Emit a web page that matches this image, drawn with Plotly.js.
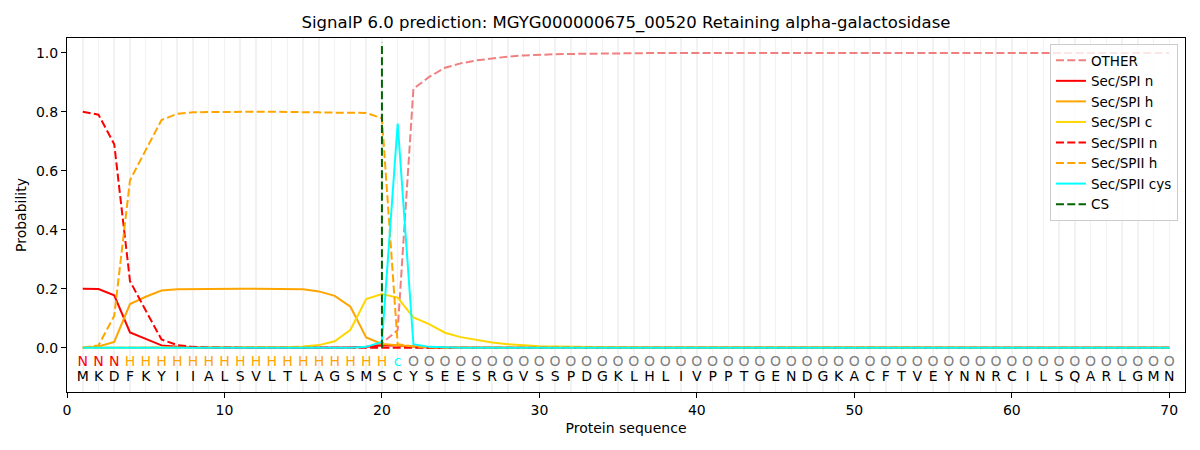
<!DOCTYPE html>
<html>
<head>
<meta charset="utf-8">
<script src="https://cdn.plot.ly/plotly-3.0.1.min.js"></script>
<style>html,body{margin:0;padding:0;background:#fff;}#chart{width:1200px;height:450px;}</style>
</head>
<body>
<div id="chart"></div>
<script>
// ---- data ----
const sequence = "MKDFKYIIALSVLTLAGSMSCYSEESRGVSSPDGKLHLIVPPTGENDGKACFTVEYNNRCILSQARLGMN".split("");
const regionLabels = "NNNHHHHHHHHHHHHHHHHHcOOOOOOOOOOOOOOOOOOOOOOOOOOOOOOOOOOOOOOOOOOOOOOOOO".split("");

const other = [0,0,0,0,0,0,0,0,0,0, 0,0,0,0,0,0,0,0.001,0.002,0.015,
  0.06,0.878,0.918,0.949,0.964,0.974,0.981,0.987,0.991,0.994,
  0.995,0.996,0.997,0.998,0.998,0.999,0.999,0.999,0.999,0.999,
  0.999,0.999,0.999,0.999,0.999,0.999,0.999,0.999,0.999,0.999,
  0.999,0.999,0.999,0.999,0.999,0.999,0.999,0.999,0.999,0.999,
  0.999,0.999,0.999,0.999,0.999,0.999,0.999,0.999,0.999,0.999];
const secSpiN = [0.2,0.199,0.178,0.052,0.03,0.008,0.003,0.001,0,0, 0,0,0,0,0,0,0,0.001,0.003,0.008,
  0.008,0.004,0.001,0,0,0,0,0,0,0, 0,0,0,0,0,0,0,0,0,0, 0,0,0,0,0,0,0,0,0,0,
  0,0,0,0,0,0,0,0,0,0, 0,0,0,0,0,0,0,0,0,0];
const secSpiH = [0,0.004,0.02,0.148,0.173,0.194,0.198,0.199,0.2,0.2, 0.2,0.2,0.2,0.2,0.198,0.191,0.176,0.139,0.035,0.013,
  0.008,0.004,0.002,0.001,0,0,0,0,0,0, 0,0,0,0,0,0,0,0,0,0, 0,0,0,0,0,0,0,0,0,0,
  0,0,0,0,0,0,0,0,0,0, 0,0,0,0,0,0,0,0,0,0];
const secSpiC = [0,0,0,0,0,0,0,0,0,0, 0,0,0,0.002,0.004,0.009,0.022,0.061,0.165,0.182,
  0.17,0.103,0.08,0.051,0.036,0.026,0.018,0.012,0.008,0.005,
  0.004,0.003,0.002,0.002,0.001,0.001,0.001,0.001,0.001,0.001,
  0,0,0,0,0,0,0,0,0,0, 0,0,0,0,0,0,0,0,0,0, 0,0,0,0,0,0,0,0,0,0];
const secSpiiN = [0.8,0.79,0.69,0.226,0.126,0.028,0.009,0.003,0.001,0, 0,0,0,0,0,0,0,0,0.001,0.002,
  0,0,0,0,0,0,0,0,0,0, 0,0,0,0,0,0,0,0,0,0, 0,0,0,0,0,0,0,0,0,0,
  0,0,0,0,0,0,0,0,0,0, 0,0,0,0,0,0,0,0,0,0];
const secSpiiH = [0,0.008,0.108,0.568,0.67,0.772,0.793,0.798,0.799,0.8, 0.8,0.8,0.8,0.8,0.799,0.798,0.797,0.796,0.796,0.778,
  0.012,0.004,0.001,0,0,0,0,0,0,0, 0,0,0,0,0,0,0,0,0,0, 0,0,0,0,0,0,0,0,0,0,
  0,0,0,0,0,0,0,0,0,0, 0,0,0,0,0,0,0,0,0,0];
const secSpiiCys = [0,0,0,0,0,0,0,0,0,0, 0,0,0,0,0,0,0,0,0.003,0.02,
  0.76,0.012,0.003,0.001,0,0,0,0,0,0, 0,0,0,0,0,0,0,0,0,0, 0,0,0,0,0,0,0,0,0,0,
  0,0,0,0,0,0,0,0,0,0, 0,0,0,0,0,0,0,0,0,0];
const csPos = 20;
const csTop = 1.035;
const xTicks = [0,10,20,30,40,50,60,70];
const yTicks = [0,0.2,0.4,0.6,0.8,1.0];
const yTickText = ["0.0","0.2","0.4","0.6","0.8","1.0"];

// ---- build ----
const positions = sequence.map((_, i) => i + 1);
const regionColor = {N: "red", H: "orange", c: "cyan", O: "grey"};
const dash = "8px,3.3px";
const FONT = "DejaVu Sans, sans-serif";

function line(name, y, color, dashed) {
  return {x: positions, y: y, name: name, type: "scatter", mode: "lines",
    line: {color: color, width: 2, dash: dashed ? dash : "solid"}};
}

const traces = [
  line("OTHER", other, "#F08080", true),
  line("Sec/SPI n", secSpiN, "red", false),
  line("Sec/SPI h", secSpiH, "orange", false),
  line("Sec/SPI c", secSpiC, "gold", false),
  line("Sec/SPII n", secSpiiN, "red", true),
  line("Sec/SPII h", secSpiiH, "orange", true),
  line("Sec/SPII cys", secSpiiCys, "cyan", false),
  {x: [csPos, csPos], y: [0, csTop], name: "CS", type: "scatter", mode: "lines",
    line: {color: "darkgreen", width: 2, dash: dash}},
  {x: positions, y: positions.map(() => -0.05), text: regionLabels, mode: "text", type: "scatter",
    textfont: {family: FONT, size: 14, color: regionLabels.map(r => regionColor[r])},
    showlegend: false, hoverinfo: "skip"},
  {x: positions, y: positions.map(() => -0.1), text: sequence, mode: "text", type: "scatter",
    textfont: {family: FONT, size: 14, color: "black"},
    showlegend: false, hoverinfo: "skip"}
];

const layout = {
  width: 1200, height: 450,
  margin: {l: 67, r: 15, t: 38, b: 58},
  paper_bgcolor: "white", plot_bgcolor: "white",
  font: {family: FONT, size: 14, color: "black"},
  title: {text: "SignalP 6.0 prediction: MGYG000000675_00520 Retaining alpha-galactosidase",
    font: {family: FONT, size: 16.5, color: "black"},
    x: 0.5, xref: "paper", xanchor: "center", y: 1 - 22/450, yref: "container", yanchor: "middle"},
  xaxis: {range: [0, 71], tickvals: xTicks, ticks: "outside", ticklen: 5, tickwidth: 1, tickcolor: "black",
    showline: true, linecolor: "black", linewidth: 1, mirror: true, zeroline: false,
    showgrid: true, gridcolor: "#f2f2f2", gridwidth: 1.5,
    minor: {dtick: 1, tick0: 0, showgrid: true, gridcolor: "#f2f2f2", gridwidth: 1.5, ticks: ""},
    title: {text: "Protein sequence", font: {family: FONT, size: 14}, standoff: 6},
    tickfont: {family: FONT, size: 14}},
  yaxis: {range: [-0.15, 1.05], tickvals: yTicks, ticktext: yTickText, ticks: "outside", ticklen: 5, tickwidth: 1,
    tickcolor: "black", showline: true, linecolor: "black", linewidth: 1, mirror: true, zeroline: false,
    showgrid: false,
    title: {text: "Probability", font: {family: FONT, size: 14}, standoff: 6},
    tickfont: {family: FONT, size: 14}},
  legend: {x: 0.9937, xanchor: "right", y: 0.983, yanchor: "top",
    bgcolor: "rgba(255,255,255,0.8)", bordercolor: "#cccccc", borderwidth: 1,
    font: {family: FONT, size: 13.5}, itemwidth: 30, tracegroupgap: 0},
  showlegend: true
};

Plotly.newPlot("chart", traces, layout, {staticPlot: true, displayModeBar: false});
</script>
</body>
</html>
